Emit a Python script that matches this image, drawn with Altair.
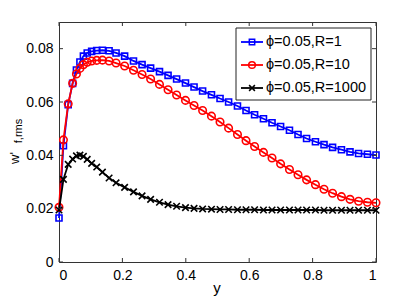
import altair as alt
import pandas as pd

# ---- data ----
y_grid = [0.0, 0.014, 0.029, 0.043, 0.055, 0.066, 0.077, 0.089, 0.103, 0.119, 0.137, 0.158,
          0.18, 0.207, 0.235, 0.262, 0.289, 0.317, 0.344, 0.371, 0.399, 0.426, 0.453, 0.481,
          0.508, 0.535, 0.563, 0.59, 0.617, 0.645, 0.672, 0.699, 0.727, 0.754, 0.781, 0.809,
          0.836, 0.863, 0.891, 0.918, 0.945, 0.973, 1.0]

w_R1 = [0.0165, 0.0436, 0.059, 0.067, 0.072, 0.075, 0.0772, 0.0784, 0.079, 0.0793, 0.0794, 0.0792,
        0.0784, 0.0772, 0.0754, 0.0740, 0.0727, 0.0714, 0.0700, 0.0686, 0.0671, 0.0656, 0.0641, 0.0627,
        0.0613, 0.0600, 0.0585, 0.0568, 0.0552, 0.0537, 0.0522, 0.0508, 0.0494, 0.0478, 0.0463, 0.0451,
        0.0440, 0.0430, 0.0421, 0.0413, 0.0407, 0.0404, 0.0401]

w_R10 = [0.0205, 0.0458, 0.0593, 0.067, 0.0705, 0.0726, 0.0740, 0.0749, 0.0754, 0.0756, 0.0757, 0.0754,
         0.0746, 0.0735, 0.0719, 0.0703, 0.0686, 0.0666, 0.0646, 0.0626, 0.0606, 0.0587, 0.0568, 0.0547,
         0.0525, 0.0502, 0.0478, 0.0455, 0.0433, 0.0411, 0.0390, 0.0368, 0.0347, 0.0327, 0.0308, 0.0290,
         0.0273, 0.0258, 0.0245, 0.0235, 0.0228, 0.0224, 0.0222]

w_R1000 = [0.0195, 0.031, 0.0366, 0.0386, 0.0398, 0.0401, 0.0396, 0.0385, 0.0370, 0.0356, 0.0337, 0.0315,
           0.0297, 0.0280, 0.0263, 0.0248, 0.0235, 0.0224, 0.0215, 0.0209, 0.0204, 0.0201, 0.0199, 0.0198,
           0.0197, 0.0197, 0.0196, 0.0196, 0.0196, 0.0195, 0.0195, 0.0195, 0.0195, 0.0195, 0.0195, 0.0195,
           0.0194, 0.0194, 0.0194, 0.0194, 0.0194, 0.0194, 0.0194]

series_labels = ["ϕ=0.05,R=1", "ϕ=0.05,R=10", "ϕ=0.05,R=1000"]
x_ticks = [0, 0.2, 0.4, 0.6, 0.8, 1.0]
y_ticks = [0, 0.02, 0.04, 0.06, 0.08]

# ---- styling ----
FONT = "Liberation Sans"
W, H = 317, 240
colors = ["#0000ff", "#ff0000", "#000000"]
XSHAPE = "M-1,-1L1,1M-1,1L1,-1"
shapes = ["square", "circle", XSHAPE]
sizes = [36, 56, 42]

xs = alt.Scale(domain=[0, 1], nice=False)
ys = alt.Scale(domain=[0, 0.09], nice=False)

series_values = [w_R1, w_R10, w_R1000]
frames = []
for lab, vals in zip(series_labels, series_values):
    frames.append(pd.DataFrame({"y": y_grid, "w": vals, "series": lab}))
df = pd.concat(frames, ignore_index=True)

x_enc = alt.X("y:Q", scale=xs,
              axis=alt.Axis(values=x_ticks, format="~g", ticks=False, domain=False, grid=False,
                            title=None, labelPadding=6, labelFont=FONT, labelFontSize=14,
                            labelColor="black"))
y_enc = alt.Y("w:Q", scale=ys,
              axis=alt.Axis(values=y_ticks, format="~g", ticks=False, domain=False, grid=False,
                            title=None, labelPadding=6, labelFont=FONT, labelFontSize=14,
                            labelColor="black"))

layers = []
for i, lab in enumerate(series_labels):
    base = alt.Chart(df).transform_filter(alt.datum.series == lab)
    layers.append(base.mark_line(color=colors[i], strokeWidth=1.8).encode(x=x_enc, y=y_enc))
    layers.append(base.mark_point(color=colors[i], shape=shapes[i], size=sizes[i],
                                  strokeWidth=1.6, filled=False, opacity=1).encode(x=x_enc, y=y_enc))

# inward ticks on all four sides
xt = pd.DataFrame({"t": x_ticks})
yt = pd.DataFrame({"t": y_ticks})
TL = 4
tick_style = dict(color="#333333", strokeWidth=1)
layers.append(alt.Chart(xt).mark_rule(**tick_style).encode(
    x=alt.X("t:Q", scale=xs), y=alt.value(H), y2=alt.value(H - TL)))
layers.append(alt.Chart(xt).mark_rule(**tick_style).encode(
    x=alt.X("t:Q", scale=xs), y=alt.value(0), y2=alt.value(TL)))
layers.append(alt.Chart(yt).mark_rule(**tick_style).encode(
    y=alt.Y("t:Q", scale=ys), x=alt.value(0), x2=alt.value(TL)))
layers.append(alt.Chart(yt).mark_rule(**tick_style).encode(
    y=alt.Y("t:Q", scale=ys), x=alt.value(W), x2=alt.value(W - TL)))

# axis titles
one = pd.DataFrame({"a": [0]})
layers.append(alt.Chart(one).mark_text(text="y", font=FONT, fontSize=15, align="center",
                                       baseline="middle").encode(x=alt.value(158), y=alt.value(266)))
layers.append(alt.Chart(one).mark_text(text="w'", font=FONT, fontSize=13, angle=270, align="center",
                                       baseline="alphabetic").encode(x=alt.value(-40), y=alt.value(136)))
layers.append(alt.Chart(one).mark_text(text="f,rms", font=FONT, fontSize=11, angle=270, align="center",
                                       baseline="alphabetic").encode(x=alt.value(-37), y=alt.value(109)))

# legend
LX0, LX1, LY0, LY1 = 177, 312, 6, 78
layers.append(alt.Chart(one).mark_rect(fill="white", stroke="#222222", strokeWidth=1).encode(
    x=alt.value(LX0), x2=alt.value(LX1), y=alt.value(LY0), y2=alt.value(LY1)))
row_y = [20, 43, 66]
for i, lab in enumerate(series_labels):
    ld = pd.DataFrame({"label": [lab]})
    layers.append(alt.Chart(ld).mark_rule(color=colors[i], strokeWidth=1.8).encode(
        x=alt.value(182), x2=alt.value(204), y=alt.value(row_y[i])))
    layers.append(alt.Chart(ld).mark_point(color=colors[i], shape=shapes[i], size=sizes[i] * 0.8,
                                           strokeWidth=1.5, filled=False, opacity=1).encode(
        x=alt.value(193), y=alt.value(row_y[i])))
    layers.append(alt.Chart(ld).mark_text(font=FONT, fontSize=14.5, align="left", baseline="middle",
                                          color="black").encode(
        text="label:N", x=alt.value(207), y=alt.value(row_y[i])))

chart = alt.layer(*layers).properties(
    width=W, height=H,
    autosize=alt.AutoSizeParams(type="none"),
    padding={"left": 51, "top": 14, "right": 30, "bottom": 40},
    background="white",
).configure_view(stroke="#333333", strokeWidth=1)

chart.save("out.html", embed_options={"renderer": "svg", "actions": False})
